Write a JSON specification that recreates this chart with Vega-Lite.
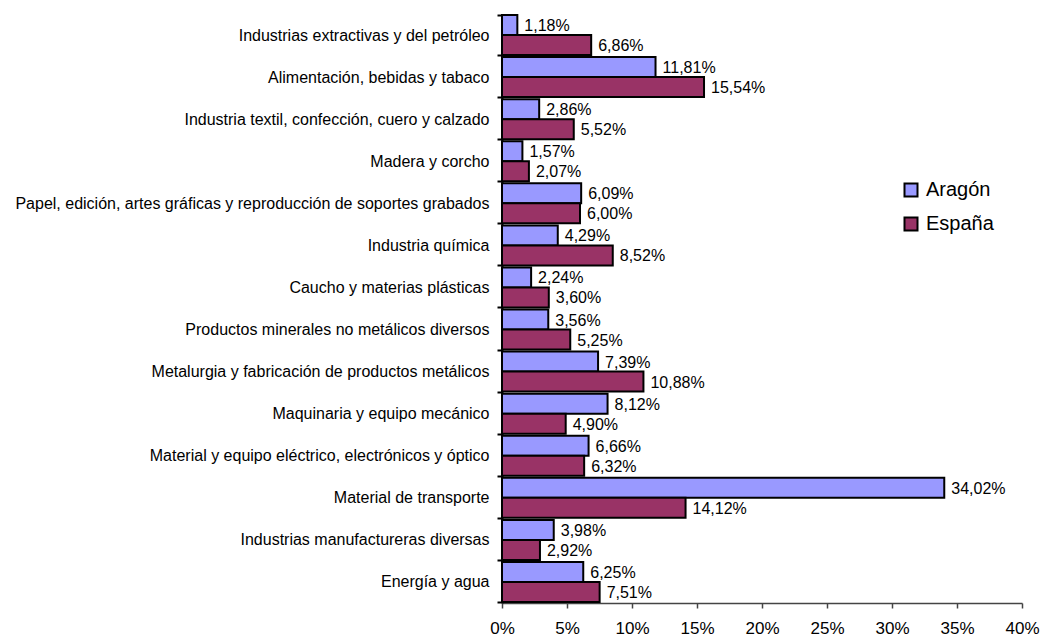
{
  "$schema": "https://vega.github.io/schema/vega-lite/v6.json",
  "width": 520,
  "height": 589,
  "autosize": {"type": "none"},
  "padding": {"left": 502, "top": 14, "right": 18, "bottom": 36},
  "background": "white",
  "config": {
    "view": {"stroke": null},
    "font": "Liberation Sans",
    "locale": {
      "number": {"decimal": ",", "thousands": ".", "grouping": [3], "currency": ["", " €"]}
    }
  },
  "data": {
    "values": [
      {"sector": "Industrias extractivas y del petróleo", "serie": "Aragón", "valor": 0.0118},
      {"sector": "Industrias extractivas y del petróleo", "serie": "España", "valor": 0.0686},
      {"sector": "Alimentación, bebidas y tabaco", "serie": "Aragón", "valor": 0.1181},
      {"sector": "Alimentación, bebidas y tabaco", "serie": "España", "valor": 0.1554},
      {"sector": "Industria textil, confección, cuero y calzado", "serie": "Aragón", "valor": 0.0286},
      {"sector": "Industria textil, confección, cuero y calzado", "serie": "España", "valor": 0.0552},
      {"sector": "Madera y corcho", "serie": "Aragón", "valor": 0.0157},
      {"sector": "Madera y corcho", "serie": "España", "valor": 0.0207},
      {"sector": "Papel, edición, artes gráficas y reproducción de soportes grabados", "serie": "Aragón", "valor": 0.0609},
      {"sector": "Papel, edición, artes gráficas y reproducción de soportes grabados", "serie": "España", "valor": 0.0600},
      {"sector": "Industria química", "serie": "Aragón", "valor": 0.0429},
      {"sector": "Industria química", "serie": "España", "valor": 0.0852},
      {"sector": "Caucho y materias plásticas", "serie": "Aragón", "valor": 0.0224},
      {"sector": "Caucho y materias plásticas", "serie": "España", "valor": 0.0360},
      {"sector": "Productos minerales no metálicos diversos", "serie": "Aragón", "valor": 0.0356},
      {"sector": "Productos minerales no metálicos diversos", "serie": "España", "valor": 0.0525},
      {"sector": "Metalurgia y fabricación de productos metálicos", "serie": "Aragón", "valor": 0.0739},
      {"sector": "Metalurgia y fabricación de productos metálicos", "serie": "España", "valor": 0.1088},
      {"sector": "Maquinaria y equipo mecánico", "serie": "Aragón", "valor": 0.0812},
      {"sector": "Maquinaria y equipo mecánico", "serie": "España", "valor": 0.0490},
      {"sector": "Material y equipo eléctrico, electrónicos y óptico", "serie": "Aragón", "valor": 0.0666},
      {"sector": "Material y equipo eléctrico, electrónicos y óptico", "serie": "España", "valor": 0.0632},
      {"sector": "Material de transporte", "serie": "Aragón", "valor": 0.3402},
      {"sector": "Material de transporte", "serie": "España", "valor": 0.1412},
      {"sector": "Industrias manufactureras diversas", "serie": "Aragón", "valor": 0.0398},
      {"sector": "Industrias manufactureras diversas", "serie": "España", "valor": 0.0292},
      {"sector": "Energía y agua", "serie": "Aragón", "valor": 0.0625},
      {"sector": "Energía y agua", "serie": "España", "valor": 0.0751}
    ]
  },
  "encoding": {
    "y": {
      "field": "sector",
      "type": "nominal",
      "sort": null,
      "title": null,
      "scale": {"paddingInner": 0.05, "paddingOuter": 0.025},
      "axis": {
        "tickBand": "extent",
        "domainColor": "black",
        "domainWidth": 2,
        "tickColor": "black",
        "tickWidth": 2,
        "tickSize": 5,
        "labelFontSize": 16,
        "labelColor": "black",
        "labelPadding": 8,
        "labelLimit": 0,
        "grid": false
      }
    },
    "yOffset": {
      "field": "serie",
      "type": "nominal",
      "sort": ["Aragón", "España"],
      "scale": {"paddingInner": 0, "paddingOuter": 0}
    },
    "x": {
      "field": "valor",
      "type": "quantitative",
      "title": null,
      "scale": {"domain": [0, 0.4], "nice": false},
      "axis": {
        "values": [0, 0.05, 0.1, 0.15, 0.2, 0.25, 0.3, 0.35, 0.4],
        "format": ".0%",
        "grid": false,
        "domainColor": "#444",
        "domainWidth": 1.5,
        "tickColor": "#444",
        "tickWidth": 1.5,
        "tickSize": 5,
        "labelFontSize": 17,
        "labelColor": "black",
        "labelPadding": 12,
        "labelFlush": false
      }
    }
  },
  "layer": [
    {
      "mark": {"type": "bar", "stroke": "black", "strokeWidth": 2},
      "encoding": {
        "color": {
          "field": "serie",
          "type": "nominal",
          "scale": {"domain": ["Aragón", "España"], "range": ["#9999FF", "#993366"]},
          "legend": {
            "title": null,
            "orient": "none",
            "legendX": 399,
            "legendY": 166,
            "symbolType": "square",
            "symbolSize": 169,
            "symbolStrokeColor": "black",
            "symbolStrokeWidth": 2,
            "labelFontSize": 20,
            "labelColor": "black",
            "labelOffset": 5,
            "rowPadding": 12,
            "padding": 0
          }
        }
      }
    },
    {
      "mark": {"type": "text", "align": "left", "baseline": "middle", "dx": 7, "dy": 1, "fontSize": 16, "color": "black"},
      "encoding": {
        "text": {"field": "valor", "type": "quantitative", "format": ".2%"}
      }
    }
  ]
}
